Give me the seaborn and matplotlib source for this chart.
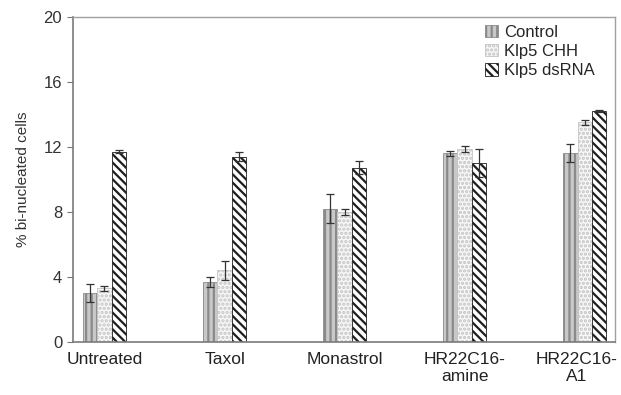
import numpy as np
import pandas as pd
import matplotlib
matplotlib.use("Agg")
import matplotlib.pyplot as plt
import matplotlib.transforms as mtransforms
import seaborn as sns

# data
treatments = ["Untreated", "Taxol", "Monastrol", "HR22C16-\namine", "HR22C16-\nA1"]
groups = ["Control", "Klp5 CHH", "Klp5 dsRNA"]
control = [3.0, 3.7, 8.2, 11.6, 11.6]
control_err = [0.55, 0.3, 0.9, 0.15, 0.55]
chh = [3.3, 4.4, 8.0, 11.85, 13.5]
chh_err = [0.15, 0.6, 0.2, 0.2, 0.15]
dsrna = [11.7, 11.4, 10.7, 11.0, 14.2]
dsrna_err = [0.1, 0.3, 0.4, 0.85, 0.05]

df = pd.DataFrame({
    "treatment": treatments * 3,
    "group": [g for g in groups for _ in treatments],
    "value": control + chh + dsrna,
    "err": control_err + chh_err + dsrna_err,
})

sns.set_theme(style="white")
plt.rcParams["font.family"] = ["Liberation Sans", "DejaVu Sans"]
plt.rcParams["hatch.linewidth"] = 1.6

fig, ax = plt.subplots(figsize=(6.21, 3.95), dpi=100)
fig.subplots_adjust(left=0.118, right=0.990, top=0.958, bottom=0.134)

fills = {"Control": "#c8c8c8", "Klp5 CHH": "#f7f7f7", "Klp5 dsRNA": "white"}
hatches = {"Control": "|||", "Klp5 CHH": "....", "Klp5 dsRNA": "\\\\\\\\"}
hatch_cols = {"Control": "#8a8a8a", "Klp5 CHH": "#c4c4c4", "Klp5 dsRNA": "#1e1e1e"}

sns.barplot(data=df, x="treatment", y="value", hue="group", order=treatments,
            hue_order=groups, palette=fills, width=0.36, errorbar=None,
            edgecolor="#666666", linewidth=0.6, ax=ax)

for cont, g in zip(ax.containers, groups):
    sub = df[df["group"] == g].set_index("treatment").loc[treatments]
    for bar, (v, e) in zip(cont, zip(sub["value"], sub["err"])):
        bar.set_hatch(hatches[g])
        bar.set_edgecolor(hatch_cols[g])
        x = bar.get_x() + bar.get_width() / 2
        ax.errorbar(x, v, yerr=e, fmt="none", ecolor="#333333",
                    elinewidth=0.9, capsize=3, capthick=0.9)

ax.set_xlim(-0.26, 4.25)
ax.set_ylim(0, 20)
ax.set_yticks([0, 4, 8, 12, 16, 20])
ax.tick_params(axis="y", direction="out", length=4, width=0.8, color="#777777",
               left=True, labelsize=12, labelcolor="#333333", pad=4)
ax.tick_params(axis="x", length=0, labelsize=12.5, labelcolor="#222222", pad=7)
ax.set_xlabel("")
ax.set_ylabel("% bi-nucleated cells", fontsize=11, color="#333333", labelpad=10)

# last label sits a little left of its group so it stays inside the figure
last = ax.get_xticklabels()[-1]
last.set_transform(last.get_transform() +
                   mtransforms.ScaledTranslation(-8 / 100, 0, fig.dpi_scale_trans))

for side in ["left", "bottom"]:
    ax.spines[side].set_color("#7a7a7a")
    ax.spines[side].set_linewidth(1.2)
for side in ["top", "right"]:
    ax.spines[side].set_color("#a0a0a0")
    ax.spines[side].set_linewidth(1.0)

leg = ax.legend(loc="upper right", bbox_to_anchor=(0.982, 1.005), frameon=False,
                fontsize=12, handlelength=0.75, handleheight=0.75,
                handletextpad=0.4, labelspacing=0.25, borderaxespad=0.2)
for h, g in zip(leg.legend_handles, groups):
    h.set_hatch(hatches[g])
    h.set_edgecolor(hatch_cols[g])

plt.savefig("out.png", dpi=100)
plt.close()
